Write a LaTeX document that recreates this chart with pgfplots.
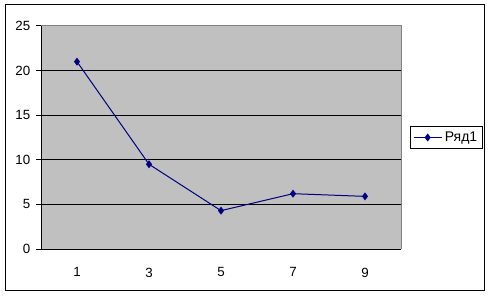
\documentclass[border=0pt]{standalone}
\usepackage{pgfplots}
\pgfplotsset{compat=1.18}
\usepackage{fontspec}
\setmainfont{Liberation Sans}
\definecolor{plotgray}{HTML}{C0C0C0}
\definecolor{framegray}{HTML}{808080}
\definecolor{navy}{HTML}{000080}
\begin{document}
\begin{tikzpicture}
\path[use as bounding box] (0pt,0pt) rectangle (368.25pt,222pt);
\draw[black,line width=0.75pt] (3.75pt,4.5pt) rectangle (363pt,218.25pt);
\begin{axis}[
  at={(30.75pt,35.25pt)}, anchor=south west,
  scale only axis, width=270pt, height=167.25pt,
  xmin=-0.5, xmax=4.5, ymin=0, ymax=25,
  xtick={0,1,2,3,4}, xticklabels={1,3,5,7,9},
  minor xtick={-0.5,0.5,1.5,2.5,3.5,4.5},
  ytick={0,5,10,15,20,25},
  xtick pos=bottom, ytick pos=left,
  tick align=outside,
  major tick length=3.5pt,
  minor tick length=3.75pt,
  xtick style={draw=none},
  minor tick style={black, line width=0.75pt},
  ytick style={black, line width=0.75pt},
  ymajorgrids, grid style={black, line width=0.75pt},
  axis background/.style={fill=plotgray},
  axis line style={draw=none},
  font=\fontsize{10}{12}\selectfont,
  /pgf/number format/assume math mode=true,
  yticklabel style={xshift=-1pt},
  xticklabel style={yshift=-7pt},
  legend style={at={(1.025,0.5)}, anchor=west, draw=black, line width=0.75pt,
    inner sep=2pt, font=\fontsize{10.5}{12}\selectfont, legend cell align=left},
  legend image code/.code={
    \draw[#1, line width=0.75pt] (0pt,0pt) -- (21pt,0pt);
    \draw[#1, mark repeat=2, mark phase=2] plot coordinates {(0pt,0pt) (10.5pt,0pt) (21pt,0pt)};
  },
  clip=false,
]
\addplot[navy, line width=0.75pt, mark=diamond*, mark size=2.4pt, mark options={fill=navy, draw=navy}]
  coordinates {(0,21) (1,9.5) (2,4.3) (3,6.2) (4,5.9)};
\addlegendentry{Ряд1}
\draw[framegray, line width=0.75pt] (rel axis cs:0,1) -- (rel axis cs:1,1) -- (rel axis cs:1,0);
\draw[black, line width=0.75pt] (rel axis cs:0,1) -- (rel axis cs:0,0) -- (rel axis cs:1,0);
\end{axis}
\end{tikzpicture}
\end{document}
